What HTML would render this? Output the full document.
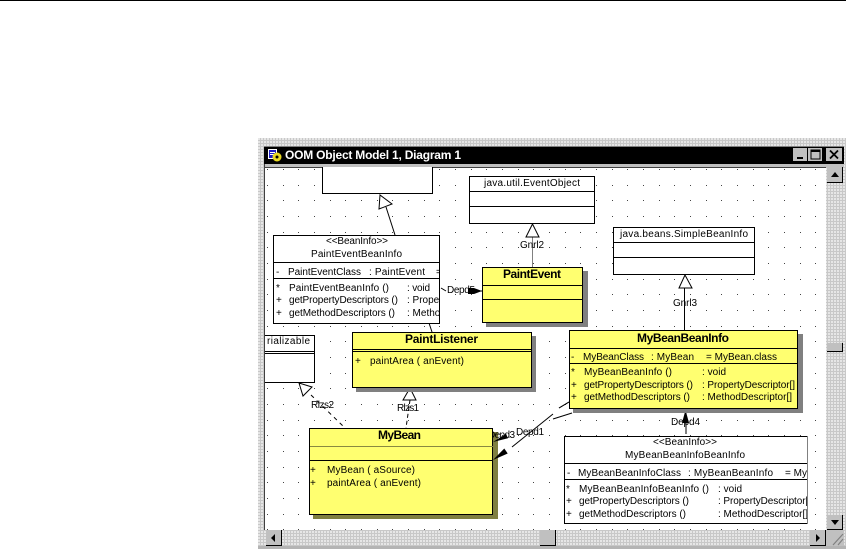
<!DOCTYPE html>
<html><head><meta charset="utf-8"><style>
html,body{margin:0;padding:0;background:#fff;width:846px;height:550px;overflow:hidden}
svg{display:block}
text{font-family:"Liberation Sans",Arial,sans-serif;font-size:10px;fill:#000}
text.b{font-weight:bold;font-size:12px}
.c{shape-rendering:crispEdges}
.box{stroke:#000;stroke-width:1;shape-rendering:crispEdges}
</style></head><body>
<svg width="846" height="550" viewBox="0 0 846 550" xmlns="http://www.w3.org/2000/svg">
<defs>
<pattern id="dith" x="0" y="0" width="3" height="3" patternUnits="userSpaceOnUse"><rect width="3" height="3" fill="#c8c8c8"/><rect width="2" height="2" fill="#e6e6e6"/></pattern>
<pattern id="dots" x="283" y="169" width="47" height="47" patternUnits="userSpaceOnUse">
<rect x="0" y="0" width="1" height="1" fill="#444"/><rect x="15" y="0" width="1" height="1" fill="#444"/><rect x="31" y="0" width="1" height="1" fill="#444"/>
<rect x="0" y="16" width="1" height="1" fill="#444"/><rect x="15" y="16" width="1" height="1" fill="#444"/><rect x="31" y="16" width="1" height="1" fill="#444"/>
<rect x="0" y="31" width="1" height="1" fill="#444"/><rect x="15" y="31" width="1" height="1" fill="#444"/><rect x="31" y="31" width="1" height="1" fill="#444"/>
</pattern>
<clipPath id="cv"><rect x="265" y="167" width="561" height="363"/></clipPath>
<clipPath id="c1"><rect x="273" y="235" width="167" height="88"/></clipPath>
<clipPath id="c2"><rect x="564" y="436" width="243" height="88"/></clipPath>
<clipPath id="c3"><rect x="493" y="425" width="40" height="20"/></clipPath>
</defs>

<rect class="c" x="0" y="0" width="846" height="1" fill="#000"/>

<!-- window frame -->
<rect class="c" x="258" y="138" width="588" height="411" fill="url(#dith)"/>
<rect class="c" x="258" y="546" width="588" height="3" fill="#b4b4b4"/>
<rect class="c" x="264" y="146" width="580" height="1" fill="#808080"/>
<rect class="c" x="264" y="147" width="580" height="17" fill="#000"/>
<rect class="c" x="264" y="164" width="580" height="3" fill="#c0c0c0"/>
<rect class="c" x="264" y="164" width="1" height="366" fill="#404040"/>
<rect class="c" x="265" y="167" width="561" height="363" fill="#fff"/>
<rect class="c" x="265" y="167" width="561" height="1" fill="#404040"/>

<!-- title icon -->
<rect class="c" x="268" y="149" width="9" height="10" fill="#fff"/>
<rect class="c" x="269" y="150" width="7" height="8" fill="#1c1cc0"/>
<rect class="c" x="270" y="152" width="5" height="1" fill="#fff"/>
<rect class="c" x="270" y="154" width="5" height="1" fill="#fff"/>
<circle cx="277" cy="157" r="4.5" fill="#e8d820"/>
<circle cx="277" cy="157" r="1.5" fill="#000"/>
<text x="285" y="159" class="b" style="fill:#fff" textLength="176" lengthAdjust="spacing">OOM Object Model 1, Diagram 1</text>

<!-- window buttons -->
<g class="c">
<rect x="793" y="148" width="14" height="13" fill="#c0c0c0"/><rect x="797" y="157" width="6" height="2" fill="#000"/>
<rect x="808" y="148" width="14" height="13" fill="#c0c0c0"/><rect x="811" y="150" width="9" height="9" fill="none" stroke="#000"/><rect x="811" y="150" width="9" height="2" fill="#000"/>
<rect x="826" y="148" width="16" height="13" fill="#c0c0c0"/>
</g>
<path d="M830 150.5L838 158.5M838 150.5L830 158.5" stroke="#000" stroke-width="1.8"/>

<!-- scrollbars -->
<g class="c">
<rect x="826" y="167" width="18" height="379" fill="url(#dith)"/>
<rect x="265" y="530" width="561" height="16" fill="url(#dith)"/>
<rect x="827" y="167" width="16" height="16" fill="#c0c0c0"/><rect x="827" y="182" width="16" height="1" fill="#000"/><rect x="842" y="167" width="1" height="16" fill="#000"/>
<rect x="827" y="343" width="16" height="9" fill="#c0c0c0"/><rect x="827" y="351" width="16" height="1" fill="#000"/><rect x="842" y="343" width="1" height="9" fill="#000"/>
<rect x="827" y="515" width="16" height="15" fill="#c0c0c0"/><rect x="827" y="529" width="16" height="1" fill="#000"/><rect x="842" y="515" width="1" height="15" fill="#000"/>
<rect x="266" y="530" width="16" height="16" fill="#c0c0c0"/><rect x="266" y="545" width="16" height="1" fill="#000"/><rect x="281" y="530" width="1" height="16" fill="#000"/>
<rect x="540" y="530" width="16" height="16" fill="#c0c0c0"/><rect x="540" y="545" width="16" height="1" fill="#000"/><rect x="555" y="530" width="1" height="16" fill="#000"/>
<rect x="810" y="530" width="16" height="16" fill="#c0c0c0"/><rect x="810" y="545" width="16" height="1" fill="#000"/><rect x="825" y="530" width="1" height="16" fill="#000"/>
<rect x="826" y="530" width="18" height="16" fill="#c0c0c0"/>
</g>
<path d="M835 172L831 177H839Z M831 520H839L835 525Z M271 538L275 534V542Z M816 534L820 538L816 542Z" fill="#000"/>
<path d="M843 534L833 545M843 539L838 545" stroke="#808080" stroke-width="1.2" fill="none"/>

<!-- canvas -->
<g clip-path="url(#cv)">
<rect x="265" y="167" width="561" height="363" fill="url(#dots)"/>

<!-- connectors -->
<path d="M386 207L395 235" stroke="#000" fill="none"/>
<path d="M380 195L379 209L392 204Z" fill="#fff" stroke="#000"/>
<path d="M429 323L432 332" stroke="#000" fill="none"/>
<path d="M532.5 237V267" stroke="#808080" fill="none"/>
<path d="M532.5 224L526 237H539Z" fill="#fff" stroke="#000"/>
<text x="520" y="248" textLength="24" lengthAdjust="spacing">Gnrl2</text>
<path d="M684.5 288V330" stroke="#000" fill="none"/>
<path d="M685 275L679 288H692Z" fill="#fff" stroke="#000"/>
<text x="673" y="306" textLength="24" lengthAdjust="spacing">Gnrl3</text>
<path d="M441 288L446 291M475 291H482" stroke="#000" fill="none"/>
<text x="447" y="293" textLength="28" lengthAdjust="spacing">Depd5</text>
<path d="M468 288H474L482 291L474 294H468Z" fill="#000"/>

<path d="M311 395L343 426" stroke="#000" stroke-dasharray="4 4" fill="none"/>
<path d="M299 383L303 396L312 387Z" fill="#fff" stroke="#000"/>
<text x="311" y="408" textLength="23" lengthAdjust="spacing">Rlzs2</text>
<path d="M410 400L406 428" stroke="#000" stroke-dasharray="4 3" fill="none"/>
<path d="M410 388L403 400H416Z" fill="#fff" stroke="#000"/>
<text x="397" y="411" textLength="22" lengthAdjust="spacing">Rlzs1</text>

<path d="M512 447L553 414M559 408L569 402" stroke="#000" fill="none"/>
<path d="M553 419L572 413" stroke="#000" fill="none"/>
<text x="516" y="435" textLength="28" lengthAdjust="spacing">Depd1</text>

<path d="M686 408V434" stroke="#000" fill="none"/>
<path d="M685.5 410L682 423H689Z" fill="#000"/>
<text x="671" y="425" textLength="29" lengthAdjust="spacing">Depd4</text>

<!-- top clipped box -->
<rect class="box" x="322.5" y="160.5" width="110" height="33" fill="#fff"/>

<!-- java.util.EventObject -->
<rect class="box" x="469.5" y="176.5" width="125" height="47" fill="#fff"/>
<path class="box" d="M470 191.5H595M470 206.5H595" fill="none"/>
<text x="484" y="186" textLength="96" lengthAdjust="spacing">java.util.EventObject</text>

<!-- SimpleBeanInfo -->
<rect class="box" x="613.5" y="227.5" width="141" height="47" fill="#fff"/>
<path class="box" d="M614 242.5H755M614 257.5H755" fill="none"/>
<text x="620" y="237" textLength="128" lengthAdjust="spacing">java.beans.SimpleBeanInfo</text>

<!-- PaintEventBeanInfo -->
<rect class="box" x="273.5" y="235.5" width="166" height="88" fill="#fff"/>
<path class="box" d="M274 262.5H440M274 278.5H440" fill="none"/>
<g clip-path="url(#c1)">
<text x="326" y="244" textLength="62" lengthAdjust="spacing">&lt;&lt;BeanInfo&gt;&gt;</text>
<text x="311" y="257" textLength="91" lengthAdjust="spacing">PaintEventBeanInfo</text>
<text x="276" y="275">-</text>
<text x="288" y="275" textLength="73" lengthAdjust="spacing">PaintEventClass</text>
<text x="369" y="275" textLength="56" lengthAdjust="spacing">: PaintEvent</text>
<text x="436" y="275">=</text>
<text x="276" y="291">*</text>
<text x="289" y="291" textLength="100" lengthAdjust="spacing">PaintEventBeanInfo ()</text>
<text x="407" y="291" textLength="23" lengthAdjust="spacing">: void</text>
<text x="276" y="303">+</text>
<text x="289" y="303" textLength="109" lengthAdjust="spacing">getPropertyDescriptors ()</text>
<text x="407" y="303">: Property</text>
<text x="276" y="316">+</text>
<text x="289" y="316" textLength="106" lengthAdjust="spacing">getMethodDescriptors ()</text>
<text x="407" y="316">: Method</text>
</g>

<!-- PaintEvent -->
<rect class="c" x="486" y="271" width="102" height="56" fill="#808080"/>
<rect class="box" x="482.5" y="267.5" width="100" height="55" fill="#ffff70"/>
<path class="box" d="M483 285.5H583M483 299.5H583" fill="none"/>
<text x="503" y="278" class="b" textLength="58" lengthAdjust="spacing">PaintEvent</text>

<!-- Serializable -->
<rect class="box" x="250.5" y="335.5" width="64" height="47" fill="#fff"/>
<path class="box" d="M251 351.5H315M251 353.5H315" fill="none"/>
<text x="267" y="344" textLength="43" lengthAdjust="spacing">rializable</text>

<!-- PaintListener -->
<rect class="c" x="356" y="336" width="180" height="56" fill="#808080"/>
<rect class="box" x="352.5" y="332.5" width="179" height="55" fill="#ffff70"/>
<path class="box" d="M353 349.5H532M353 351.5H532" fill="none"/>
<text x="405" y="343" class="b" textLength="73" lengthAdjust="spacing">PaintListener</text>
<text x="355" y="364">+</text>
<text x="370" y="364" textLength="94" lengthAdjust="spacing">paintArea ( anEvent)</text>

<!-- MyBeanBeanInfo -->
<rect class="c" x="573" y="334" width="230" height="79" fill="#808080"/>
<rect class="box" x="569.5" y="330.5" width="228" height="78" fill="#ffff70"/>
<path class="box" d="M570 348.5H798M570 363.5H798" fill="none"/>
<text x="637" y="342" class="b" textLength="92" lengthAdjust="spacing">MyBeanBeanInfo</text>
<text x="571" y="360">-</text>
<text x="583" y="360" textLength="61" lengthAdjust="spacing">MyBeanClass</text>
<text x="651" y="360" textLength="43" lengthAdjust="spacing">: MyBean</text>
<text x="706" y="360" textLength="71" lengthAdjust="spacing">= MyBean.class</text>
<text x="571" y="375">*</text>
<text x="584" y="375" textLength="88" lengthAdjust="spacing">MyBeanBeanInfo ()</text>
<text x="702" y="375" textLength="24" lengthAdjust="spacing">: void</text>
<text x="571" y="388">+</text>
<text x="584" y="388" textLength="109" lengthAdjust="spacing">getPropertyDescriptors ()</text>
<text x="702" y="388" textLength="93" lengthAdjust="spacing">: PropertyDescriptor[]</text>
<text x="571" y="400">+</text>
<text x="584" y="400" textLength="106" lengthAdjust="spacing">getMethodDescriptors ()</text>
<text x="702" y="400" textLength="90" lengthAdjust="spacing">: MethodDescriptor[]</text>
<path d="M559 408L569 402" stroke="#000" fill="none"/>

<!-- MyBean -->
<rect class="c" x="313" y="432" width="185" height="87" fill="#7f7f40"/>
<rect class="box" x="309.5" y="428.5" width="183" height="86" fill="#ffff70"/>
<path class="c" d="M310 446.5H493" stroke="#8a8a40" fill="none"/>
<path class="box" d="M310 460.5H493" fill="none"/>
<text x="378" y="439" class="b" textLength="43" lengthAdjust="spacing">MyBean</text>
<text x="310" y="473">+</text>
<text x="327" y="473" textLength="88" lengthAdjust="spacing">MyBean ( aSource)</text>
<text x="310" y="486">+</text>
<text x="327" y="486" textLength="94" lengthAdjust="spacing">paintArea ( anEvent)</text>

<!-- Depd3 label and arrowheads sit over MyBean's shadow -->
<g clip-path="url(#c3)"><text x="488" y="438" textLength="27" lengthAdjust="spacing">Depd3</text></g>
<path d="M493 442L506 433.7L508 438.3Z" fill="#000"/>
<path d="M493 460L504.3 448.5L507.7 453.5Z" fill="#000"/>

<!-- MyBeanBeanInfoBeanInfo (clipped at the right, no right border) -->
<rect class="c" x="564" y="436" width="243" height="88" fill="#fff"/>
<path class="box" d="M564.5 436V524M564 436.5H807M564 523.5H807M564 463.5H807M564 479.5H807" fill="none"/>
<rect class="c" x="807" y="436" width="1" height="88" fill="#808080"/>
<g clip-path="url(#c2)">
<text x="653" y="445" textLength="64" lengthAdjust="spacing">&lt;&lt;BeanInfo&gt;&gt;</text>
<text x="625" y="458" textLength="120" lengthAdjust="spacing">MyBeanBeanInfoBeanInfo</text>
<text x="567" y="476">-</text>
<text x="578" y="476" textLength="103" lengthAdjust="spacing">MyBeanBeanInfoClass</text>
<text x="688" y="476" textLength="85" lengthAdjust="spacing">: MyBeanBeanInfo</text>
<text x="785" y="476">= My</text>
<text x="566" y="492">*</text>
<text x="579" y="492" textLength="130" lengthAdjust="spacing">MyBeanBeanInfoBeanInfo ()</text>
<text x="718" y="492" textLength="24" lengthAdjust="spacing">: void</text>
<text x="566" y="504">+</text>
<text x="579" y="504" textLength="110" lengthAdjust="spacing">getPropertyDescriptors ()</text>
<text x="718" y="504" textLength="93" lengthAdjust="spacing">: PropertyDescriptor[]</text>
<text x="566" y="517">+</text>
<text x="579" y="517" textLength="107" lengthAdjust="spacing">getMethodDescriptors ()</text>
<text x="718" y="517" textLength="90" lengthAdjust="spacing">: MethodDescriptor[]</text>
</g>
</g>
</svg>
</body></html>
